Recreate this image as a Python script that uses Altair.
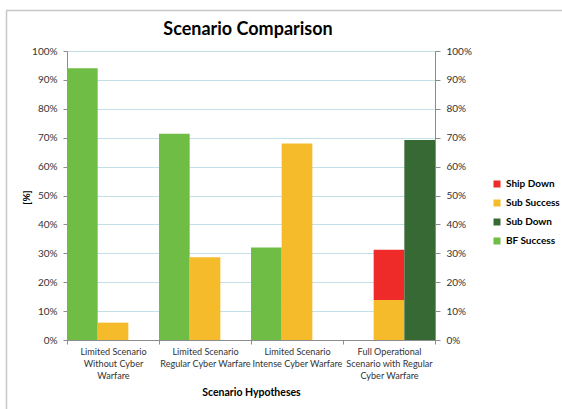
import altair as alt
import pandas as pd

categories = [
    "Limited Scenario|Without Cyber|Warfare",
    "Limited Scenario|Regular Cyber Warfare",
    "Limited Scenario|Intense Cyber Warfare",
    "Full Operational|Scenario with Regular|Cyber Warfare",
]
bf_success = [0.94, 0.714, 0.32, 0.0]
sub_success = [0.06, 0.286, 0.68, 0.138]
ship_down = [0.0, 0.0, 0.0, 0.174]
sub_down = [0.0, 0.0, 0.0, 0.692]

legend_order = ["Ship Down", "Sub Success", "Sub Down", "BF Success"]
colors = ["#EE2B29", "#F5BB2B", "#376934", "#6FBD44"]
y_ticks = [i / 10 for i in range(11)]

rows = []
for i, c in enumerate(categories):
    rows.append(dict(cat=c, series="BF Success", slot="a", y0=0.0, y1=bf_success[i]))
    rows.append(dict(cat=c, series="Sub Success", slot="b", y0=0.0, y1=sub_success[i]))
    rows.append(dict(cat=c, series="Ship Down", slot="b", y0=sub_success[i],
                     y1=sub_success[i] + ship_down[i]))
    rows.append(dict(cat=c, series="Sub Down", slot="c", y0=0.0, y1=sub_down[i]))
df = pd.DataFrame(rows)
df = df[df["y1"] > df["y0"]]

FONT = "Lato"
TXT = "#333333"
AX = "#8C8C8C"

x_enc = alt.X(
    "cat:N",
    sort=categories,
    scale=alt.Scale(paddingInner=0, paddingOuter=0),
    axis=alt.Axis(
        title="Scenario Hypotheses",
        titleFont=FONT, titleFontSize=10.5, titleFontWeight="bold", titleColor="#000000",
        titleBaseline="middle", titleY=52,
        labelExpr="split(datum.label, '|')",
        labelAngle=0, labelLimit=0, labelFont=FONT, labelFontSize=9.1,
        labelLineHeight=12, labelBaseline="top", labelPadding=3, labelColor=TXT,
        tickSize=4, tickColor=AX, domainColor=AX, tickBand="extent",
        grid=False,
    ),
)
xoff = alt.XOffset("slot:N", scale=alt.Scale(domain=["a", "b", "c"], paddingInner=0, paddingOuter=0))

bars = alt.Chart(df).mark_bar(strokeWidth=0).encode(
    x=x_enc,
    xOffset=xoff,
    y=alt.Y(
        "y1:Q",
        scale=alt.Scale(domain=[0, 1], nice=False),
        axis=alt.Axis(
            title="[%]", titleFont=FONT, titleFontSize=10, titleFontWeight="bold",
            titleColor="#000000", titleX=-41, titleY=146, titleBaseline="middle", titleAngle=270,
            values=y_ticks, format=".0%", labelFont=FONT, labelFontSize=10, labelColor=TXT,
            labelPadding=6, tickSize=4, tickColor=AX, domainColor=AX,
            grid=True, gridColor="#C3DFE8", gridWidth=1,
        ),
    ),
    y2="y0:Q",
    color=alt.Color(
        "series:N",
        scale=alt.Scale(domain=legend_order, range=colors),
        legend=alt.Legend(
            title=None, orient="none", legendX=425, legendY=128,
            symbolType="square", symbolSize=49, symbolStrokeWidth=0, symbolOpacity=1,
            labelFont=FONT, labelFontSize=10, labelFontWeight="bold", labelColor="#000000",
            labelOffset=4, rowPadding=9, padding=0,
        ),
    ),
)

right = alt.Chart(df).mark_bar(opacity=0).encode(
    x=alt.X("cat:N", sort=categories),
    xOffset=xoff,
    y=alt.Y(
        "y1:Q",
        axis=alt.Axis(
            orient="right", title=None, values=y_ticks, format=".0%",
            labelFont=FONT, labelFontSize=10, labelColor=TXT, labelPadding=6,
            tickSize=5, tickColor=AX, domainColor=AX, grid=False,
        ),
    ),
    y2="y0:Q",
)

frame_df = pd.DataFrame({"k": [0]})
border_left = alt.Chart(frame_df).mark_rule(color="#C8C8C8", strokeWidth=1.5).encode(
    x=alt.value(-60.5), y=alt.value(-40.5), y2=alt.value(360)
)
border_top = alt.Chart(frame_df).mark_rule(color="#C8C8C8", strokeWidth=1.5).encode(
    x=alt.value(-61), x2=alt.value(500), y=alt.value(-40.5)
)

chart = (
    alt.layer(bars, right, border_left, border_top)
    .resolve_axis(y="independent")
    .properties(
        width=368,
        height=289,
        padding={"left": 67, "top": 51, "right": 127, "bottom": 69},
        autosize=alt.AutoSizeParams(type="none"),
        title=alt.TitleParams(
            "Scenario Comparison", font=FONT, fontSize=18, fontWeight="bold",
            color="#000000", anchor="middle", frame="group", offset=-43,
            baseline="alphabetic", dx=-3,
        ),
        background="#FFFFFF",
    )
    .configure_view(stroke=None)
)

chart.save("out.html", embed_options={"renderer": "svg", "actions": False})
